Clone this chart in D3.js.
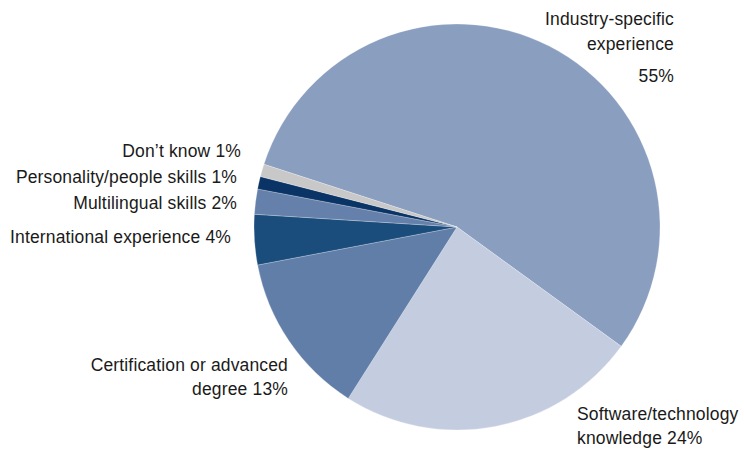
<!DOCTYPE html>
<html>
<head>
<meta charset="utf-8">
<script src="https://cdn.jsdelivr.net/npm/d3@7"></script>
<style>
  body { margin: 0; background: #fff; }
  svg text { font-family: "Liberation Sans", Arial, Helvetica, sans-serif; font-size: 17.5px; letter-spacing: 0.15px; fill: #1a1a1a; }
</style>
</head>
<body>
<svg id="chart" width="744" height="449"></svg>
<script>
// slice data, clockwise from the upper-left boundary
const categories = [
  'Industry-specific experience',
  'Software/technology knowledge',
  'Certification or advanced degree',
  'International experience',
  'Multilingual skills',
  'Personality/people skills',
  "Don\u2019t know"
];
const values = [55, 24, 13, 4, 2, 1, 1];
const colors = ['#8a9ec0', '#c4cce0', '#607ea8', '#1b4d7c', '#6580aa', '#0a3366', '#c8c8c8'];

// label lines per slice (text, anchor, x, y)
const labelLines = [
  [['Industry-specific', 'end', 674, 25], ['experience', 'end', 674, 50], ['55%', 'end', 674, 82]],
  [['Software/technology', 'start', 577, 420], ['knowledge 24%', 'start', 577, 444]],
  [['Certification or advanced', 'end', 288, 371], ['degree 13%', 'end', 288, 395]],
  [['International experience 4%', 'end', 231, 243]],
  [['Multilingual skills 2%', 'end', 237, 209]],
  [['Personality/people skills 1%', 'end', 237, 183]],
  [['Don\u2019t know 1%', 'end', 241, 157]]
];

const svg = d3.select('#chart');
const cx = 457, cy = 227, radius = 203;

const pie = d3.pie()
  .sort(null)
  .value(d => d)
  .startAngle(-0.4 * Math.PI)
  .endAngle(1.6 * Math.PI);

const arc = d3.arc().innerRadius(0).outerRadius(radius);

const g = svg.append('g').attr('transform', 'translate(' + cx + ',' + cy + ')');

g.selectAll('path')
  .data(pie(values))
  .join('path')
    .attr('d', arc)
    .attr('fill', (d, i) => colors[i])
    .attr('stroke', '#ffffff')
    .attr('stroke-width', 0.4)
    .attr('stroke-opacity', 0.6);

labelLines.forEach(lines => {
  lines.forEach(([t, anchor, x, y]) => {
    svg.append('text')
      .attr('x', x)
      .attr('y', y)
      .attr('text-anchor', anchor)
      .text(t);
  });
});
</script>
</body>
</html>
